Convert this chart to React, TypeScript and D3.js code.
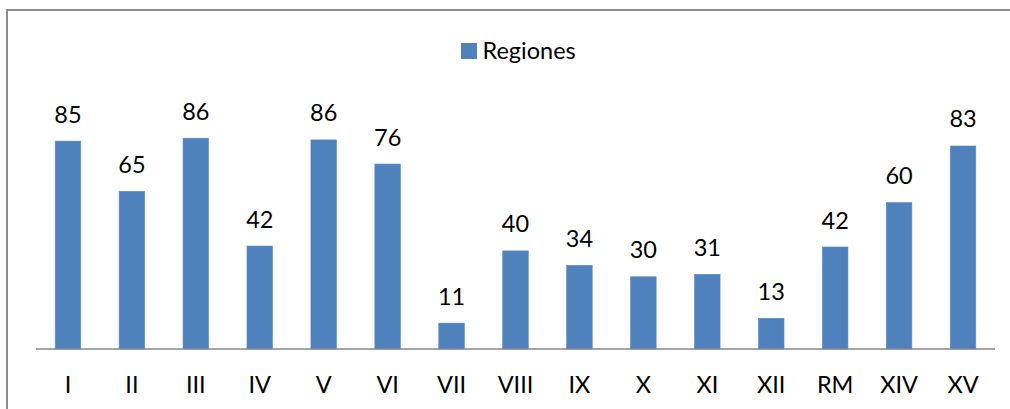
import React from "react";
import * as d3 from "d3";

const categories = ["I", "II", "III", "IV", "V", "VI", "VII", "VIII", "IX", "X", "XI", "XII", "RM", "XIV", "XV"];
const values = [85.2, 64.6, 86.4, 42.2, 85.7, 75.8, 10.6, 40.2, 34.3, 29.6, 30.6, 12.6, 41.8, 60.0, 83.2];
const seriesName = "Regiones";
const yDomain = [0, 100];

const W = 1010;
const H = 409;
const FONT = "Lato, 'Open Sans', sans-serif";
const BAR = "#4F81BD";

export default function App() {
  const x = d3.scaleBand<string>().domain(categories).range([36, 995]).paddingInner(0.6).paddingOuter(0.3);
  const y = d3.scaleLinear().domain(yDomain).range([349, 105]);
  const fmt = d3.format(".0f");
  return (
    <div style={{ position: "absolute", left: 0, top: 0 }}>
      <svg width={W} height={H} style={{ display: "block", background: "#fff" }}>
        <rect x={7} y={10} width={W + 10} height={H + 10} fill="#fff" stroke="#8c8c8c" strokeWidth={2} />
        {categories.map((c, i) => (
          <rect key={c} x={x(c)} y={y(values[i])} width={x.bandwidth()} height={y(0) - y(values[i])} fill={BAR} stroke="#5a8ac4" strokeWidth={0.6} />
        ))}
        <line x1={36} x2={995} y1={y(0)} y2={y(0)} stroke="#868686" strokeWidth={1.6} />
        {categories.map((c, i) => (
          <text key={"v" + c} x={(x(c) as number) + x.bandwidth() / 2} y={y(values[i]) - 18.5} textAnchor="middle" fontFamily={FONT} fontSize={23.5} fill="#000">
            {fmt(values[i])}
          </text>
        ))}
        {categories.map((c) => (
          <text key={"c" + c} x={(x(c) as number) + x.bandwidth() / 2} y={393} textAnchor="middle" fontFamily={FONT} fontSize={23.5} fill="#000">
            {c}
          </text>
        ))}
        <rect x={461} y={43} width={16} height={16} fill={BAR} />
        <text x={482.5} y={59} fontFamily={FONT} fontSize={23.5} fill="#000">{seriesName}</text>
      </svg>
    </div>
  );
}
